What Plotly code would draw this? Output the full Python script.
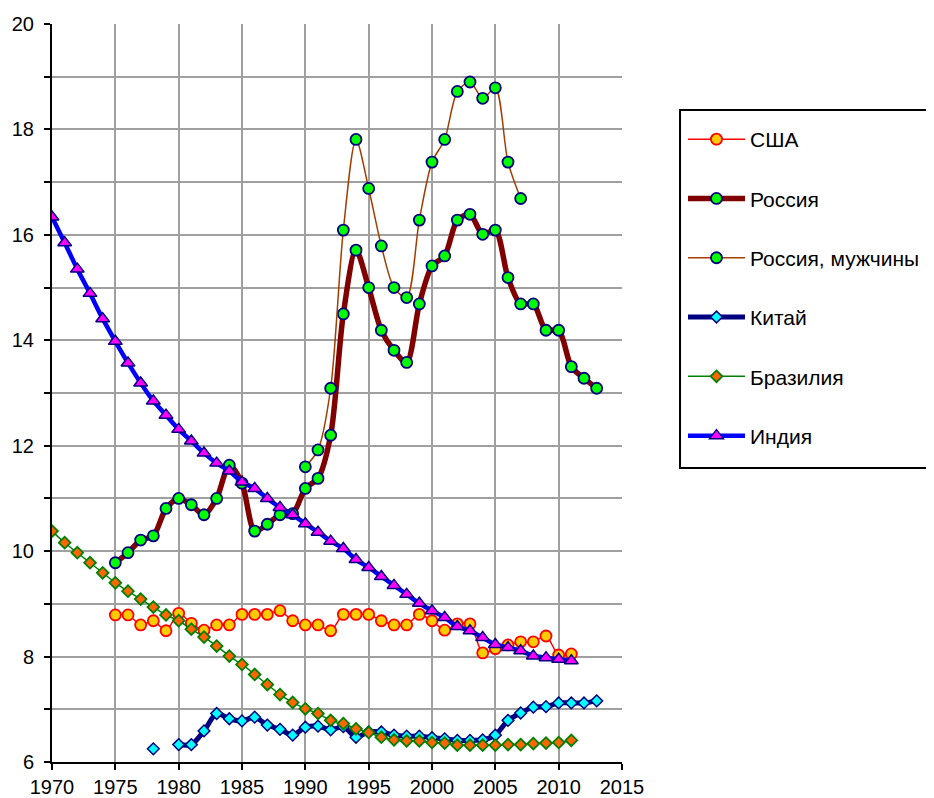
import plotly.graph_objects as go

# ---- data ----
usa_years = list(range(1975, 2012))
usa = [8.79, 8.79, 8.60, 8.68, 8.49, 8.82, 8.63, 8.50, 8.60, 8.60,
       8.80, 8.80, 8.80, 8.87, 8.68, 8.60, 8.60, 8.49, 8.80, 8.80,
       8.80, 8.68, 8.60, 8.60, 8.80, 8.68, 8.50, 8.62, 8.62, 8.07,
       8.15, 8.22, 8.28, 8.28, 8.39, 8.03, 8.05]

russia_years = list(range(1975, 2014))
russia = [9.78, 9.97, 10.21, 10.29, 10.81, 11.00, 10.88, 10.69, 11.00, 11.63,
          11.29, 10.38, 10.51, 10.69, 10.71, 11.19, 11.38, 12.20, 14.50, 15.71,
          15.00, 14.19, 13.81, 13.58, 14.69, 15.41, 15.60, 16.28, 16.39, 16.01,
          16.09, 15.19, 14.69, 14.69, 14.19, 14.19, 13.50, 13.28, 13.09]

russia_men_years = list(range(1990, 2008))
russia_men = [11.60, 11.92, 13.09, 16.09, 17.81, 16.88, 15.79, 15.00, 14.81, 16.28,
              17.38, 17.81, 18.72, 18.90, 18.59, 18.79, 17.38, 16.69]

china_years = list(range(1978, 2014))
china = [6.25, None, 6.33, 6.33, 6.59, 6.92, 6.82, 6.78, 6.85, 6.70,
         6.62, 6.51, 6.66, 6.68, 6.61, 6.67, 6.47, 6.57, 6.57, 6.51,
         6.49, 6.49, 6.46, 6.44, 6.41, 6.41, 6.42, 6.51, 6.79, 6.93,
         7.04, 7.05, 7.12, 7.12, 7.12, 7.16]

brazil_years = list(range(1970, 2012))
brazil = [10.38, 10.16, 9.97, 9.78, 9.59, 9.40, 9.24, 9.09, 8.94, 8.79,
          8.68, 8.52, 8.37, 8.20, 8.01, 7.85, 7.66, 7.47, 7.28, 7.13,
          7.01, 6.92, 6.79, 6.73, 6.63, 6.56, 6.47, 6.42, 6.40, 6.40,
          6.37, 6.36, 6.32, 6.32, 6.32, 6.32, 6.33, 6.33, 6.35, 6.36,
          6.37, 6.41]

india_years = list(range(1970, 2012))
india = [16.34, 15.85, 15.35, 14.89, 14.41, 13.98, 13.57, 13.19, 12.85, 12.58,
         12.31, 12.09, 11.86, 11.67, 11.52, 11.31, 11.19, 11.00, 10.83, 10.69,
         10.52, 10.36, 10.19, 10.05, 9.84, 9.69, 9.52, 9.35, 9.18, 9.01,
         8.87, 8.74, 8.57, 8.49, 8.36, 8.23, 8.17, 8.11, 8.01, 7.98,
         7.95, 7.92]

x_ticks = list(range(1970, 2016, 5))
y_ticks = list(range(6, 21, 2))

names = ["США", "Россия", "Россия, мужчины", "Китай", "Бразилия", "Индия"]

FONT = "Liberation Sans, Arial, sans-serif"

fig = go.Figure()


def add(name, xs, ys, lcolor, lwidth, symbol, msize, mfill, mline, mlw=1.5):
    fig.add_trace(go.Scatter(
        x=xs, y=ys, name=name, mode="lines+markers",
        legendgroup=name, connectgaps=False,
        line=dict(color=lcolor, width=lwidth, shape="spline", smoothing=0.8),
        marker=dict(symbol=symbol, size=msize, color=mfill,
                    line=dict(color=mline, width=mlw)),
    ))


add(names[0], usa_years, usa, "#FF0000", 1.5, "circle", 11, "#FFCC00", "#FF0000", 1.8)
add(names[1], russia_years, russia, "#800000", 5.5, "circle", 11, "#00FF00", "#000080", 1.8)
add(names[2], russia_men_years, russia_men, "#A33D00", 1.5, "circle", 11, "#00FF00", "#000080", 1.8)
add(names[3], china_years, china, "#000080", 5, "diamond", 9, "#00FFFF", "#000080", 1.5)
add(names[4], brazil_years, brazil, "#008000", 1.5, "diamond", 9, "#FF6600", "#008000", 1.8)
add(names[5], india_years, india, "#0000FF", 4.5, "triangle-up", 12, "#FF00FF", "#000080", 1.5)

GRID = "#a0a0a0"

# page body has an 8px margin, so the figure is sized/placed to compensate
fig.update_layout(
    width=926, height=790,
    margin=dict(l=44, r=312, t=16, b=36, autoexpand=False),
    paper_bgcolor="white", plot_bgcolor="white",
    font=dict(family=FONT, size=20, color="black"),
    showlegend=True,
    legend=dict(
        x=1.107, y=0.8713, xanchor="left", yanchor="top",
        bgcolor="rgba(0,0,0,0)", borderwidth=0,
        font=dict(family=FONT, size=21, color="black"),
        tracegroupgap=29, itemwidth=57,
        traceorder="grouped",
    ),
    shapes=[dict(
        type="rect", xref="paper", yref="paper",
        x0=1.1018, x1=1.56, y0=0.3984, y1=0.8835,
        line=dict(color="black", width=2), fillcolor="white", layer="below",
    )],
    xaxis=dict(
        range=[1970, 2015], tickvals=x_ticks, ticktext=[str(v) for v in x_ticks],
        showgrid=True, gridcolor=GRID, gridwidth=2,
        showline=True, linecolor="black", linewidth=2,
        ticks="outside", ticklen=6, tickwidth=2, tickcolor="black",
        zeroline=False, automargin=False,
        tickfont=dict(family=FONT, size=20, color="black"),
    ),
    yaxis=dict(
        range=[6, 20], tickvals=y_ticks, ticktext=[str(v) for v in y_ticks],
        showgrid=True, gridcolor=GRID, gridwidth=2,
        showline=True, linecolor="black", linewidth=2,
        ticks="outside", ticklen=6, tickwidth=2, tickcolor="black",
        zeroline=False, automargin=False,
        tickfont=dict(family=FONT, size=20, color="black"),
        ticklabelstandoff=6,
        minor=dict(dtick=1, tick0=6, showgrid=True, gridcolor=GRID, gridwidth=2,
                   ticks="outside", ticklen=6, tickwidth=2, tickcolor="black"),
    ),
)

fig.write_html("out.html")
